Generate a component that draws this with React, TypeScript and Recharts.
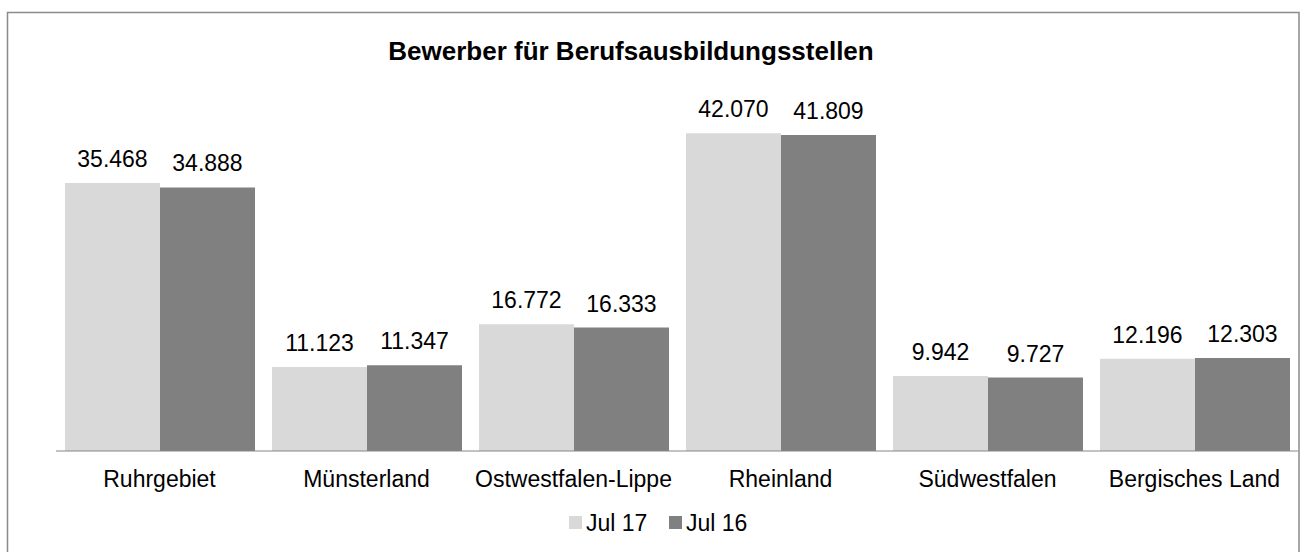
import { BarChart, Bar, XAxis, YAxis, LabelList } from 'recharts'

const regions = ['Ruhrgebiet', 'Münsterland', 'Ostwestfalen-Lippe', 'Rheinland', 'Südwestfalen', 'Bergisches Land']
const jul17 = [35468, 11123, 16772, 42070, 9942, 12196]
const jul16 = [34888, 11347, 16333, 41809, 9727, 12303]
const seriesNames = ['Jul 17', 'Jul 16']
const seriesColors = ['#d9d9d9', '#808080']
const title = 'Bewerber für Berufsausbildungsstellen'

const data = regions.map((region, i) => ({ region, jul17: jul17[i], jul16: jul16[i] }))

const font = '"Liberation Sans", Arial, sans-serif'

// 35468 -> "35.468"
const fmt = (v: number) => String(v).replace(/\B(?=(\d{3})+(?!\d))/g, '.')

export default function App() {
  return (
    <div style={{ position: 'absolute', left: 0, top: 0, width: 1306, height: 552, background: '#fff', overflow: 'hidden' }}>
      <BarChart
        width={1306}
        height={552}
        data={data}
        margin={{ top: 111, right: 8, bottom: 61, left: 56 }}
        barCategoryGap={9}
        barGap={0}
      >
        <YAxis hide domain={[0, 45000]} />
        <XAxis
          dataKey="region"
          height={40}
          tickLine={false}
          tickMargin={14}
          axisLine={{ stroke: '#868686', strokeWidth: 1 }}
          tick={{ fill: '#000', fontSize: 23, fontFamily: font }}
          interval={0}
        />
        <Bar dataKey="jul17" name={seriesNames[0]} fill={seriesColors[0]} isAnimationActive={false}>
          <LabelList dataKey="jul17" position="top" offset={16} formatter={(v: number) => fmt(v)} style={{ fill: '#000', fontSize: 23, fontFamily: font }} />
        </Bar>
        <Bar dataKey="jul16" name={seriesNames[1]} fill={seriesColors[1]} isAnimationActive={false}>
          <LabelList dataKey="jul16" position="top" offset={16} formatter={(v: number) => fmt(v)} style={{ fill: '#000', fontSize: 23, fontFamily: font }} />
        </Bar>
      </BarChart>
      <svg width={1306} height={552} style={{ position: 'absolute', left: 0, top: 0, pointerEvents: 'none' }}>
        <rect x={7.5} y={12.5} width={1291.5} height={600} fill="none" stroke="#8a8a8a" strokeWidth={1.5} />
        <text x={631} y={60} textAnchor="middle" fontFamily={font} fontSize={26} fontWeight="bold" fill="#000">
          {title}
        </text>
        <rect x={569} y={516} width={13} height={13} fill={seriesColors[0]} />
        <text x={586} y={531} fontFamily={font} fontSize={23} fill="#000">{seriesNames[0]}</text>
        <rect x={669} y={516} width={13} height={13} fill={seriesColors[1]} />
        <text x={686} y={531} fontFamily={font} fontSize={23} fill="#000">{seriesNames[1]}</text>
      </svg>
    </div>
  )
}
